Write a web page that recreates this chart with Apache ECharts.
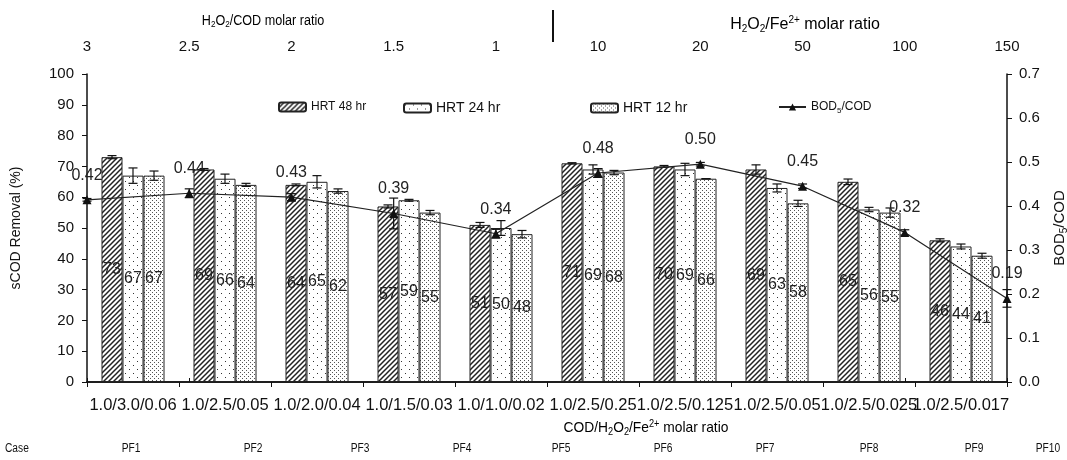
<!DOCTYPE html>
<html lang="en">
<head>
<meta charset="UTF-8">
<title>sCOD removal and BOD5/COD</title>
<script src="https://cdn.jsdelivr.net/npm/echarts@6/dist/echarts.min.js"></script>
<style>
  html, body { margin: 0; padding: 0; background: #fff; }
  #chart { width: 1067px; height: 460px; }
</style>
</head>
<body>
<div id="chart"></div>
<script>
// ---- data ----
var categories = ['1.0/3.0/0.06', '1.0/2.5/0.05', '1.0/2.0/0.04', '1.0/1.5/0.03', '1.0/1.0/0.02',
                  '1.0/2.5/0.25', '1.0/2.5/0.125', '1.0/2.5/0.05', '1.0/2.5/0.025', '1.0/2.5/0.017'];
var topTicks = ['3', '2.5', '2', '1.5', '1', '10', '20', '50', '100', '150'];
var cases = ['PF1', 'PF2', 'PF3', 'PF4', 'PF5', 'PF6', 'PF7', 'PF8', 'PF9', 'PF10'];

var hrt48 = [73, 69, 64, 57, 51, 71, 70, 69, 65, 46];
var hrt24 = [67, 66, 65, 59, 50, 69, 69, 63, 56, 44];
var hrt12 = [67, 64, 62, 55, 48, 68, 66, 58, 55, 41];
var err48 = [0.5, 0.3, 0.3, 0.5, 0.8, 0.2, 0.3, 1.5, 0.9, 0.5];
var err24 = [2.5, 1.5, 2.0, 0.3, 2.4, 1.5, 2.0, 1.3, 0.7, 0.8];
var err12 = [1.5, 0.5, 0.7, 0.7, 1.2, 0.7, 0.0, 1.0, 1.5, 0.8];

var bodCod = [0.414, 0.429, 0.42, 0.383, 0.337, 0.475, 0.495, 0.445, 0.34, 0.19];
var bodLabels = ['0.42', '0.44', '0.43', '0.39', '0.34', '0.48', '0.50', '0.45', '0.32', '0.19'];
var bodErr = [0.003, 0.01, 0.008, 0.035, 0.01, 0.01, 0.004, 0.005, 0.006, 0.02];

// layout only: x centre of the "Case" row labels
var caseX = [131, 253, 360, 462, 561, 663, 765, 869, 974, 1048];

var FONT = '"Liberation Sans", Arial, sans-serif';

// fill patterns for the bars
function makePattern(size, draw) {
    var c = document.createElement('canvas');
    c.width = size; c.height = size;
    var ctx = c.getContext('2d');
    ctx.fillStyle = '#fff';
    ctx.fillRect(0, 0, size, size);
    draw(ctx, size);
    return { image: c, repeat: 'repeat' };
}
var hatch = makePattern(5, function (ctx, s) {
    ctx.strokeStyle = '#222';
    ctx.lineWidth = 1.5;
    ctx.beginPath();
    ctx.moveTo(-1, s + 1); ctx.lineTo(s + 1, -1);
    ctx.moveTo(-1, 1); ctx.lineTo(1, -1);
    ctx.moveTo(s - 1, s + 1); ctx.lineTo(s + 1, s - 1);
    ctx.stroke();
});
var sparseDots = makePattern(8, function (ctx) {
    ctx.fillStyle = '#333';
    ctx.fillRect(1, 1, 1, 1);
    ctx.fillRect(5, 5, 1, 1);
});
var denseDots = makePattern(4, function (ctx) {
    ctx.fillStyle = '#555';
    ctx.fillRect(0, 0, 1, 1);
    ctx.fillRect(2, 2, 1, 1);
});

function subStyles(size) {
    var small = Math.round(size * 0.65);
    return {
        n: { fontSize: size, lineHeight: size + 3, fontFamily: FONT, color: '#111' },
        s: { fontSize: small, lineHeight: small - 1, verticalAlign: 'bottom', fontFamily: FONT, color: '#111' },
        p: { fontSize: small, lineHeight: small - 1, verticalAlign: 'top', fontFamily: FONT, color: '#111' }
    };
}

var BAR_W = 21;

function errorSeries(vals, errs, shift, xi, yi) {
    return {
        type: 'custom',
        xAxisIndex: xi,
        yAxisIndex: yi,
        silent: true,
        z: 5,
        data: vals.map(function (v, i) { return [i, v, errs[i]]; }),
        renderItem: function (params, api) {
            var x = api.value(0), v = api.value(1), e = api.value(2);
            var hi = api.coord([x, v + e]);
            var lo = api.coord([x, v - e]);
            var cx = hi[0] + shift, w = 4.5;
            var st = { stroke: '#111', lineWidth: 1.2 };
            return {
                type: 'group',
                children: [
                    { type: 'line', shape: { x1: cx, y1: hi[1], x2: cx, y2: lo[1] }, style: st },
                    { type: 'line', shape: { x1: cx - w, y1: hi[1], x2: cx + w, y2: hi[1] }, style: st },
                    { type: 'line', shape: { x1: cx - w, y1: lo[1], x2: cx + w, y2: lo[1] }, style: st }
                ]
            };
        }
    };
}

function barSeries(name, data, fill) {
    return {
        name: name,
        type: 'bar',
        xAxisIndex: 0,
        yAxisIndex: 0,
        barWidth: BAR_W,
        barGap: '0%',
        data: data,
        itemStyle: { color: fill, borderColor: '#222', borderWidth: 1 },
        label: {
            show: true,
            position: 'inside',
            fontSize: 16,
            fontFamily: FONT,
            color: '#222',
            textBorderWidth: 0
        }
    };
}

var graphics = [
    {
        type: 'text',
        scaleX: 0.9,
        x: 263, y: 21,
        style: {
            x: 0, y: 0, align: 'center', verticalAlign: 'middle',
            text: '{n|H}{s|2}{n|O}{s|2}{n|/COD molar ratio}', rich: subStyles(14)
        }
    },
    {
        type: 'text',
        style: {
            x: 805, y: 25, align: 'center', verticalAlign: 'middle',
            text: '{n|H}{s|2}{n|O}{s|2}{n|/Fe}{p|2+}{n| molar ratio}', rich: subStyles(16)
        }
    },
    { type: 'line', shape: { x1: 553, y1: 10, x2: 553, y2: 42 }, style: { stroke: '#111', lineWidth: 2 } },
    {
        type: 'text',
        scaleX: 0.92,
        x: 646, y: 428,
        style: {
            x: 0, y: 0, align: 'center', verticalAlign: 'middle',
            text: '{n|COD/H}{s|2}{n|O}{s|2}{n|/Fe}{p|2+}{n| molar ratio}', rich: subStyles(15)
        }
    },
    {
        type: 'text',
        scaleX: 0.85,
        x: 5, y: 449,
        style: { x: 0, y: 0, verticalAlign: 'middle', text: 'Case', font: '12px ' + FONT, fill: '#111' }
    }
];
cases.forEach(function (c, i) {
    graphics.push({
        type: 'text',
        scaleX: 0.85,
        x: caseX[i], y: 449,
        style: { x: 0, y: 0, align: 'center', verticalAlign: 'middle', text: c, font: '12px ' + FONT, fill: '#111' }
    });
});

var legendBase = { orient: 'horizontal', top: 96, itemGap: 5, itemWidth: 27, itemHeight: 9, selectedMode: false };

var option = {
    animation: false,
    backgroundColor: '#fff',
    textStyle: { fontFamily: FONT, color: '#111' },
    grid: { left: 87, right: 60, top: 74, bottom: 78, outerBoundsMode: 'none', containLabel: false },
    legend: [
        Object.assign({}, legendBase, {
            left: 273, data: ['HRT 48 hr'],
            textStyle: { fontSize: 12, color: '#111' }
        }),
        Object.assign({}, legendBase, {
            left: 398, data: ['HRT 24 hr'],
            textStyle: { fontSize: 14, color: '#111' }
        }),
        Object.assign({}, legendBase, {
            left: 585, data: ['HRT 12 hr'],
            textStyle: { fontSize: 14, color: '#111' }
        }),
        Object.assign({}, legendBase, {
            left: 773, data: ['BOD5/COD'], itemWidth: 27,
            formatter: function () { return '{n|BOD}{s|5}{n|/COD}'; },
            textStyle: { rich: subStyles(12) }
        })
    ],
    xAxis: [
        {
            type: 'category',
            position: 'bottom',
            data: categories,
            axisLine: { lineStyle: { color: '#111', width: 1.5 } },
            axisTick: { show: true, length: 5, lineStyle: { color: '#111' } },
            axisLabel: { interval: 0, fontSize: 16.5, color: '#111', margin: 15, hideOverlap: false }
        },
        {
            type: 'category',
            position: 'top',
            boundaryGap: false,
            data: topTicks,
            axisLine: { lineStyle: { color: '#111', width: 1.5 } },
            axisTick: { show: true, length: 4, lineStyle: { color: '#111' } },
            axisLabel: { interval: 0, fontSize: 15, color: '#111', margin: 20 }
        }
    ],
    yAxis: [
        {
            type: 'value',
            min: 0, max: 100, interval: 10,
            name: 'sCOD Removal (%)',
            nameLocation: 'middle',
            nameRotate: 90,
            nameGap: 64,
            nameTextStyle: { fontSize: 14, color: '#111' },
            axisLine: { show: true, lineStyle: { color: '#111', width: 1.5 } },
            axisTick: { show: true, length: 5, lineStyle: { color: '#111' } },
            axisLabel: { fontSize: 15, color: '#111', margin: 13 },
            splitLine: { show: false }
        },
        {
            type: 'value',
            position: 'right',
            min: 0, max: 0.7, interval: 0.1,
            name: '{n|BOD}{s|5}{n|/COD}',
            nameLocation: 'middle',
            nameRotate: 90,
            nameGap: 44,
            nameTextStyle: { rich: subStyles(15) },
            axisLine: { show: true, lineStyle: { color: '#111', width: 1.5 } },
            axisTick: { show: true, length: 5, lineStyle: { color: '#111' } },
            axisLabel: {
                fontSize: 15, color: '#111', margin: 12,
                formatter: function (v) { return v.toFixed(1); }
            },
            splitLine: { show: false }
        }
    ],
    graphic: graphics,
    series: [
        barSeries('HRT 48 hr', hrt48, hatch),
        barSeries('HRT 24 hr', hrt24, sparseDots),
        barSeries('HRT 12 hr', hrt12, denseDots),
        errorSeries(hrt48, err48, -BAR_W, 0, 0),
        errorSeries(hrt24, err24, 0, 0, 0),
        errorSeries(hrt12, err12, BAR_W, 0, 0),
        {
            name: 'BOD5/COD',
            type: 'line',
            xAxisIndex: 1,
            yAxisIndex: 1,
            data: bodCod,
            symbol: 'triangle',
            symbolSize: 9,
            z: 6,
            itemStyle: { color: '#111' },
            lineStyle: { color: '#222', width: 1.2 },
            label: {
                show: true,
                position: 'top',
                distance: 12,
                fontSize: 16,
                color: '#222',
                formatter: function (p) { return bodLabels[p.dataIndex]; }
            }
        },
        errorSeries(bodCod, bodErr, 0, 1, 1)
    ]
};

var chart = echarts.init(document.getElementById('chart'));
chart.setOption(option);
</script>
</body>
</html>
